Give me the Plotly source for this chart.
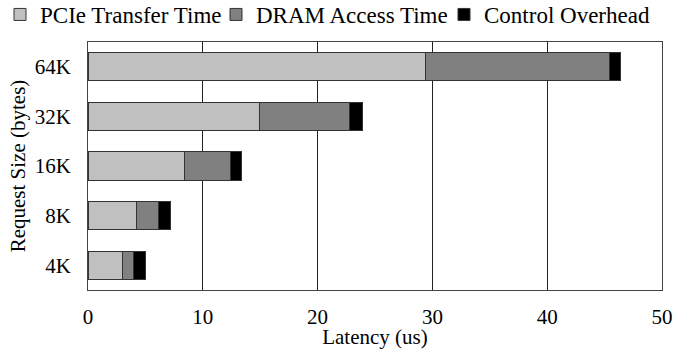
import plotly.graph_objects as go

# Request sizes (bottom to top) and latency components in microseconds
sizes = ["4K", "8K", "16K", "32K", "64K"]
pcie_transfer = [3.0, 4.2, 8.4, 14.9, 29.4]
dram_access = [0.95, 1.95, 4.0, 7.9, 16.0]
control_overhead = [1.05, 1.05, 1.0, 1.1, 1.0]

series = [
    ("PCIe Transfer Time", pcie_transfer, "#c0c0c0", "legend", 0),
    ("DRAM Access Time", dram_access, "#808080", "legend2", 216),
    ("Control Overhead", control_overhead, "#000000", "legend3", 444),
]

W, H = 673, 349
FONT = "Liberation Serif, Times New Roman, serif"

fig = go.Figure()
for name, vals, color, leg, _ in series:
    fig.add_trace(go.Bar(
        y=sizes, x=vals, name=name, orientation="h", legend=leg,
        marker=dict(color=color, line=dict(color="#333333", width=1)),
    ))

# one single-entry legend per series, laid out in a row across the top
legend_style = dict(
    orientation="h", xanchor="left", xref="container",
    y=(H - 36) / H, yanchor="bottom", yref="container",
    font=dict(size=23), itemwidth=30, bgcolor="rgba(0,0,0,0)",
)
legends = {leg: dict(legend_style, x=px / W) for _, _, _, leg, px in series}

fig.update_layout(
    barmode="stack",
    bargap=0.435,
    width=W, height=H,
    margin=dict(l=88, r=11, t=42, b=59, autoexpand=False),
    paper_bgcolor="white", plot_bgcolor="white",
    font=dict(family=FONT, size=21, color="black"),
    showlegend=True,
    **legends,
    xaxis=dict(
        range=[0, 50], dtick=10, showgrid=True, gridcolor="#222222", gridwidth=1,
        showline=True, linecolor="#444444", linewidth=1, mirror=True,
        ticks="", zeroline=False, automargin=False, ticklabelstandoff=8,
        title=dict(text="Latency (us)", standoff=5, font=dict(size=21)),
    ),
    yaxis=dict(
        showline=True, linecolor="#444444", linewidth=1, mirror=True,
        ticks="", ticklabelstandoff=12, automargin=False,
        title=dict(text="Request Size (bytes)", standoff=3, font=dict(size=21)),
    ),
)

fig.write_html("out.html")
